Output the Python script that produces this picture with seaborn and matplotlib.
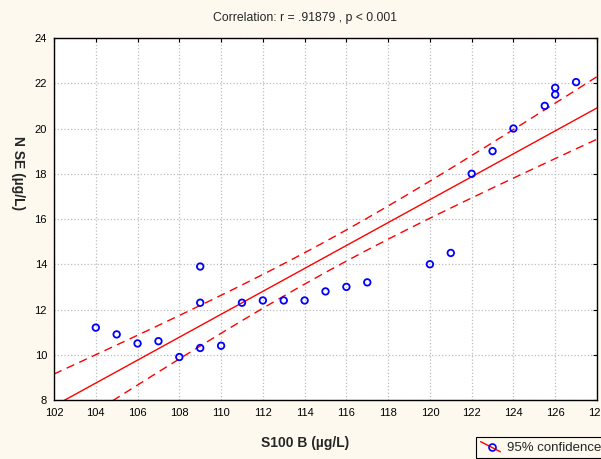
import numpy as np
import pandas as pd
import matplotlib.pyplot as plt
import seaborn as sns
from matplotlib.lines import Line2D
from matplotlib.legend_handler import HandlerBase

# values
s100b = [104, 105, 106, 107, 108, 109, 109, 109, 110, 111, 112, 113, 114,
         115, 116, 117, 120, 121, 122, 123, 124, 125.5, 126, 126, 127]
nse = [11.2, 10.9, 10.5, 10.6, 9.9, 13.9, 12.3, 10.3, 10.4, 12.3, 12.4, 12.4, 12.4,
       12.8, 13.0, 13.2, 14.0, 14.5, 18.0, 19.0, 20.0, 21.0, 21.8, 21.5, 22.05]
x_ticks = list(range(102, 129, 2))
y_ticks = list(range(8, 25, 2))
title = 'Correlation: r = .91879 , p < 0.001'

df = pd.DataFrame({'S100B': s100b, 'NSE': nse})

# linear fit and 95% confidence band of the mean
x = np.array(s100b, dtype=float)
y = np.array(nse, dtype=float)
n = len(x)
b, a = np.polyfit(x, y, 1)
resid = y - (a + b * x)
s = np.sqrt(np.sum(resid ** 2) / (n - 2))
sxx = np.sum((x - x.mean()) ** 2)
t = 2.069  # t(0.975, 23)
xs = np.linspace(102, 128, 200)
yhat = a + b * xs
half = t * s * np.sqrt(1 / n + (xs - x.mean()) ** 2 / sxx)
fit = pd.DataFrame({'x': xs, 'fit': yhat, 'lo': yhat - half, 'hi': yhat + half})


# legend icon: sloped red line with an open blue circle on it
class SlopeHandler(HandlerBase):
    def create_artists(self, legend, orig, xd, yd, w, h, fs, trans):
        ln = Line2D([xd, xd + w], [yd + h, yd - 0.1 * h], color='red',
                    linewidth=1, transform=trans)
        mk = Line2D([xd + w * 0.55], [yd + h * 0.4], marker='o', markersize=5,
                    markerfacecolor='none', markeredgecolor='blue',
                    markeredgewidth=1.2, transform=trans)
        return [ln, mk]


sns.set_style('white')
plt.rcParams['font.family'] = ['Liberation Sans', 'DejaVu Sans']

fig = plt.figure(figsize=(6.01, 4.59), dpi=100, facecolor='#fdf9ef')
ax = fig.add_axes([0.0899, 0.1285, 0.9034, 0.7887])
ax.set_facecolor('white')

sns.lineplot(data=fit, x='x', y='fit', ax=ax, color='red', linewidth=1)
sns.lineplot(data=fit, x='x', y='lo', ax=ax, color='red', linewidth=1)
sns.lineplot(data=fit, x='x', y='hi', ax=ax, color='red', linewidth=1)
ax.lines[1].set_linestyle((0, (6, 4)))
ax.lines[2].set_linestyle((0, (6, 4)))
sns.scatterplot(data=df, x='S100B', y='NSE', ax=ax, marker='o', s=22,
                facecolors='none', edgecolor='blue', linewidth=1.3, zorder=5)

ax.set_xlim(102, 128)
ax.set_ylim(8, 24)
ax.set_xticks(x_ticks)
ax.set_yticks(y_ticks)
ax.grid(True, color='#bdbdbd', linestyle=':', linewidth=0.9)
for sp in ax.spines.values():
    sp.set_visible(True)
    sp.set_color('black')
    sp.set_linewidth(1)
ax.tick_params(direction='in', length=3, width=0.8, top=True, right=True,
               labelsize=8, colors='black')
ax.tick_params(axis='x', pad=6)
ax.tick_params(axis='y', pad=5)
for lab in ax.get_xticklabels() + ax.get_yticklabels():
    lab.set_family(['Liberation Sans Narrow', 'Liberation Sans'])

fig.text(305 / 601, 1 - 18 / 459, title, fontsize=8.8, ha='center', va='center')
ax.set_xlabel('S100 B (µg/L)', fontsize=10, fontweight='bold', va='center')
ax.xaxis.set_label_coords(0.462, -0.119)
ax.set_ylabel('N SE (µg/L)', fontsize=10, fontweight='bold', rotation=-90,
              va='center', ha='center')
ax.yaxis.set_label_coords(-0.066, 0.627)

leg = fig.legend([object()], ['95% confidence'], loc='upper left',
                 handler_map={object: SlopeHandler()},
                 bbox_to_anchor=(476 / 601, 1 - 437 / 459), borderaxespad=0,
                 fontsize=9.5, frameon=True, fancybox=False, edgecolor='black',
                 facecolor='#fdf9ef', framealpha=1, handlelength=1.5,
                 handletextpad=0.5, borderpad=0.35)
leg.get_frame().set_linewidth(0.8)

plt.savefig('out.png', dpi=100, facecolor=fig.get_facecolor())
